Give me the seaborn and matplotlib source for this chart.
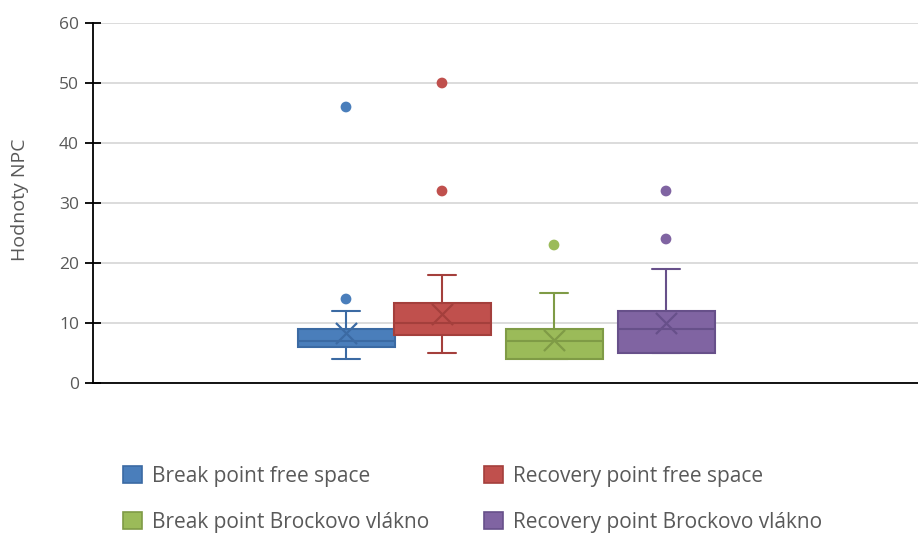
import matplotlib
matplotlib.use("Agg")
import matplotlib.pyplot as plt
import seaborn as sns
import pandas as pd
from matplotlib.patches import Patch

sns.set_theme(style="white")
plt.rcParams['font.family'] = ['Open Sans', 'DejaVu Sans']

series = ["Break point free space", "Recovery point free space",
          "Break point Brockovo vlákno", "Recovery point Brockovo vlákno"]
whisker_low = [4, 5, 4, 5]
q1 = [6, 8, 4, 5]
median = [7, 10, 7, 9]
q3 = [9, 13.3, 9, 12]
whisker_high = [12, 18, 15, 19]
means = [8.3, 11.5, 7.2, 10.0]
outliers = [[14, 46], [32, 50], [23], [24, 32]]

fills = ["#4a7ebb", "#c0504d", "#9bbb59", "#8064a2"]
edges = ["#3b6aa3", "#a43f3c", "#7f9b46", "#67508a"]
positions = [253, 349, 461, 573]

fig = plt.figure(figsize=(9.18, 5.33), dpi=100)
ax = fig.add_axes([93/918, 150/533, 825/918, 360/533])

stats = []
for i in range(len(series)):
    stats.append(dict(med=median[i], q1=q1[i], q3=q3[i],
                      whislo=whisker_low[i], whishi=whisker_high[i],
                      mean=means[i], fliers=[], label=series[i]))

for i in range(len(series)):
    ax.bxp([stats[i]], positions=[positions[i]], widths=97, capwidths=28,
           showfliers=False, showmeans=False, patch_artist=True,
           boxprops=dict(facecolor=fills[i], edgecolor=edges[i], linewidth=1.5),
           medianprops=dict(color=edges[i], linewidth=1.5),
           whiskerprops=dict(color=edges[i], linewidth=1.5),
           capprops=dict(color=edges[i], linewidth=1.5), zorder=3)

rows = []
for i, s in enumerate(series):
    for v in outliers[i]:
        rows.append(dict(x=positions[i], y=v, s=s))
df_out = pd.DataFrame(rows)
df_mean = pd.DataFrame(dict(x=positions, y=means, s=series))

sns.scatterplot(data=df_out, x="x", y="y", hue="s", palette=dict(zip(series, fills)),
                s=60, edgecolor=None, linewidth=0, legend=False, ax=ax, zorder=4)
for i in range(len(series)):
    sub = df_mean[df_mean.s == series[i]]
    sns.scatterplot(data=sub, x="x", y="y", marker="x", color=edges[i],
                    s=230, linewidth=1.6, legend=False, ax=ax, zorder=5)

ax.set_xlim(0, 825)
ax.set_ylim(0, 60)
ax.set_yticks(range(0, 61, 10))
ax.set_xticks([])
ax.set_xlabel("")
ax.set_ylabel("Hodnoty NPC", fontsize=14, color="#595959")
ax.yaxis.set_label_coords(-64/825, 0.51)
ax.yaxis.grid(True, color="#d9d9d9", linewidth=1.3)
ax.set_axisbelow(True)
for sp in ["top", "right"]:
    ax.spines[sp].set_visible(False)
for sp in ["left", "bottom"]:
    ax.spines[sp].set_color("black")
    ax.spines[sp].set_linewidth(1.3)
ax.tick_params(axis="y", direction="inout", length=12, width=1.3, color="black",
               labelsize=12.5, labelcolor="#595959", pad=4, left=True)
ax.set_facecolor("white")

order = [0, 2, 1, 3]
handles = [Patch(facecolor=fills[i], edgecolor=edges[i], linewidth=1.2, label=series[i])
           for i in order]
fig.legend(handles=handles, loc="upper left", bbox_to_anchor=(104/918, 1 - 447/533),
           ncol=2, frameon=False, fontsize=15, labelcolor="#595959",
           handlelength=0.92, handleheight=0.92, handletextpad=0.5,
           columnspacing=2.6, labelspacing=1.2)

fig.savefig("out.png", dpi=100, facecolor="white")
